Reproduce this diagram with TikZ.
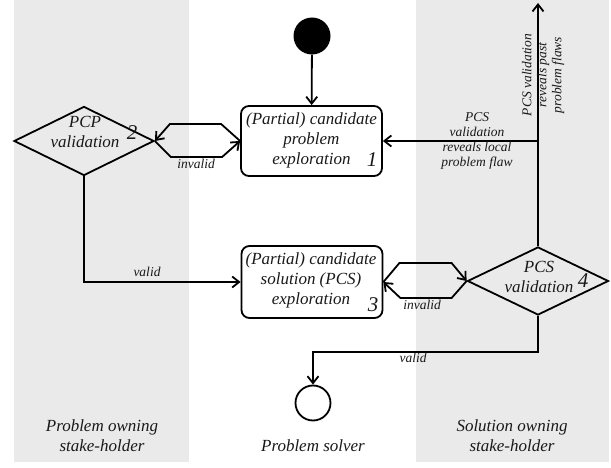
\documentclass[tikz,border=0pt]{standalone}
\usepackage{fontspec}
\setmainfont{Liberation Serif}
\usetikzlibrary{shapes.geometric,arrows.meta,calc}
\definecolor{lanegray}{RGB}{234,234,234}
\definecolor{ink}{RGB}{25,25,25}
\begin{document}
\begin{tikzpicture}[x=1pt,y=-1pt,
  lane/.style={fill=lanegray,draw=none},
  box/.style={draw,line width=1.8pt,rounded corners=8pt,minimum width=141pt,minimum height=70pt,inner sep=0},
  dia/.style={draw,diamond,line width=1.8pt,minimum width=140pt,minimum height=69pt,inner sep=0},
  main/.style={font=\fontsize{17}{20}\selectfont\itshape,align=center,inner sep=0,text=ink},
  small/.style={font=\fontsize{13.5}{15}\selectfont\itshape,align=center,inner sep=0,text=ink},
  num/.style={font=\fontsize{21}{21}\selectfont\itshape,inner sep=0,text=ink},
  arr/.style={line width=1.8pt,-{Straight Barb[length=7pt,width=11pt]}},
  ln/.style={line width=1.8pt}
]
\useasboundingbox (0,0) rectangle (611,468);
% lanes
\fill[lane] (14,0) rectangle (189,462);
\fill[lane] (416,0) rectangle (609,462);

% nodes
\node[circle,fill=black,minimum size=37pt,inner sep=0] (start) at (312,36) {};
\node[circle,draw,line width=1.8pt,minimum size=35pt,inner sep=0] (end) at (313,403) {};

\node[box] (b1) at (311.5,141) {};
\node[main] (t1) at (311.5,140) {(Partial) candidate\\problem\\exploration};
\node[num] (n1) at (372,160) {1};

\node[box,minimum height=72pt] (b3) at (312,282) {};
\node[main] (t3) at (311,280) {(Partial) candidate\\solution (PCS)\\exploration};
\node[num] (n3) at (373,305) {3};

\node[dia] (d2) at (84,141) {};
\node[main] (t2) at (85,132) {PCP\\validation};
\node[num] (n2) at (132,133) {2};

\node[dia,minimum width=141pt,minimum height=68pt] (d4) at (538,281) {};
\node[main] (t4) at (539,277) {PCS\\validation};
\node[num] (n4) at (583,281) {4};

% connectors
\draw[arr] (start) -- (b1);

\draw[arr] (b1.west) -- ++(-19,-17) -- ($(d2.east)+(15,-17)$) -- (d2.east);
\draw[arr] (d2.east) -- ++(16,16) -- ($(b1.west)+(-18,16)$) -- (b1.west);
\node[small,anchor=north] (l1) at (196,159) {invalid};

\draw[arr] (b3.east) -- ++(16,-19) -- ($(d4.west)+(-15,-18)$) -- (d4.west);
\draw[arr] (d4.west) -- ++(-15,17) -- ($(b3.east)+(17,16)$) -- (b3.east);
\node[small,anchor=north] (l2) at (422,300) {invalid};

\coordinate (top) at (538,3);
\draw[arr] (d4.north) -- (top);
\draw[arr] (b1.east -| d4.north) -- (b1.east);
\node[small] (l3) at (477,141) {PCS\\validation\\reveals local\\problem flaw};
\node[small,rotate=90] (l4) at (543,75) {PCS validation\\reveals past\\problem flaws};

\draw[arr] (d2.south) |- (b3.west);
\node[small,anchor=south] (l5) at (147,277) {valid};

\draw[arr] (d4.south) -- ++(0,36) -| (end.north);
\node[small,anchor=north] (l6) at (413,353) {valid};

% lane labels
\node[main] (lp) at (102,436) {Problem owning\\stake-holder};
\node[main] (ls) at (313,446) {Problem solver};
\node[main] (lo) at (512,436) {Solution owning\\stake-holder};
\end{tikzpicture}
\end{document}
